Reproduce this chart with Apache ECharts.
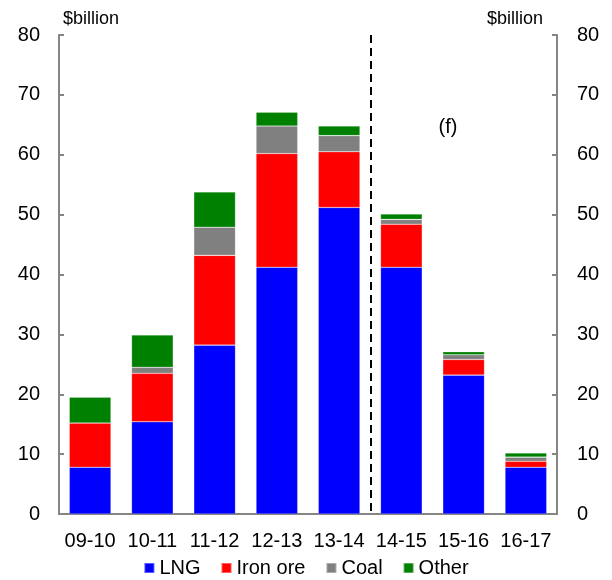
<!DOCTYPE html>
<html><head><meta charset="utf-8">
<script src="https://cdn.jsdelivr.net/npm/echarts@6/dist/echarts.min.js"></script>
<style>html,body{margin:0;padding:0;background:#fff}#c{width:612px;height:580px}</style>
</head><body><div id="c"></div>
<script>
const categories = ['09-10','10-11','11-12','12-13','13-14','14-15','15-16','16-17'];
const lng     = [7.8, 15.4, 28.2, 41.2, 51.2, 41.2, 23.2, 7.8];
const ironOre = [7.4, 8.1, 15.0, 19.0, 9.3, 7.2, 2.6, 1.0];
const coal    = [0.0, 1.0, 4.7, 4.6, 2.7, 0.8, 0.8, 0.7];
const other   = [4.3, 5.4, 5.9, 2.3, 1.6, 0.9, 0.5, 0.7];
const yTicks = [0,10,20,30,40,50,60,70,80];
const forecastBoundary = 5;     // dashed line between 13-14 and 14-15
const forecastLabel = {text:'(f)', x:6.25, y:64.5};

const font = 'Liberation Sans, Arial, sans-serif';
const axisGrey = '#858585';
const chart = echarts.init(document.getElementById('c'), null, {renderer:'canvas'});
function bar(name, data, color){
  return {name, type:'bar', stack:'t', data, barCategoryGap:'33%',
    itemStyle:{color, borderColor:'rgba(255,255,255,0.35)', borderWidth:0.6}};
}
chart.setOption({
  animation:false,
  grid:{left:59, right:55, top:35, bottom:66, containLabel:false},
  legend:{bottom:2, padding:0, left:'center', itemWidth:10, itemHeight:10, itemGap:20,
    textStyle:{fontFamily:font, fontSize:20, color:'#000'},
    icon:'rect', data:['LNG','Iron ore','Coal','Other']},
  xAxis:[{type:'category', data:categories,
    axisLine:{lineStyle:{color:axisGrey, width:2}},
    axisTick:{inside:true, length:5, interval:0, alignWithLabel:false, lineStyle:{color:axisGrey, width:2}},
    axisLabel:{fontFamily:font, fontSize:20, color:'#000', margin:17, interval:0, hideOverlap:false}},
   {type:'value', min:0, max:categories.length, show:false}],
  yAxis:[{type:'value', min:0, max:80, interval:10, position:'left',
    name:'$billion', nameLocation:'end', nameGap:7,
    nameTextStyle:{fontFamily:font, fontSize:18, color:'#000', align:'left', verticalAlign:'bottom', padding:[0,0,0,4]},
    axisLine:{show:true, lineStyle:{color:axisGrey, width:2}},
    axisTick:{show:true, inside:true, length:5, lineStyle:{color:axisGrey, width:2}},
    splitLine:{show:false},
    axisLabel:{fontFamily:font, fontSize:20, color:'#000', margin:19,
      customValues:yTicks}},
   {type:'value', min:0, max:80, interval:10, position:'right',
    name:'$billion', nameLocation:'end', nameGap:7,
    nameTextStyle:{fontFamily:font, fontSize:18, color:'#000', align:'right', verticalAlign:'bottom', padding:[0,14,0,0]},
    axisLine:{show:true, lineStyle:{color:axisGrey, width:2}},
    axisTick:{show:true, inside:true, length:5, lineStyle:{color:axisGrey, width:2}},
    splitLine:{show:false},
    axisLabel:{fontFamily:font, fontSize:20, color:'#000', margin:20}}],
  series:[
    bar('LNG', lng, '#0000ff'),
    bar('Iron ore', ironOre, '#ff0000'),
    bar('Coal', coal, '#808080'),
    bar('Other', other, '#008000'),
    {type:'scatter', xAxisIndex:1, yAxisIndex:0, symbolSize:0, silent:true,
     itemStyle:{opacity:1},
     data:[[forecastLabel.x, forecastLabel.y]],
     label:{show:true, position:'inside', formatter:forecastLabel.text,
       fontFamily:font, fontSize:20, color:'#000', opacity:1},
     markLine:{silent:true, symbol:['none','none'], label:{show:false},
       lineStyle:{color:'#000', type:[8,5], width:2, opacity:1},
       data:[[{coord:[forecastBoundary,80]},{coord:[forecastBoundary,0]}]]}}
  ]
});
</script></body></html>
